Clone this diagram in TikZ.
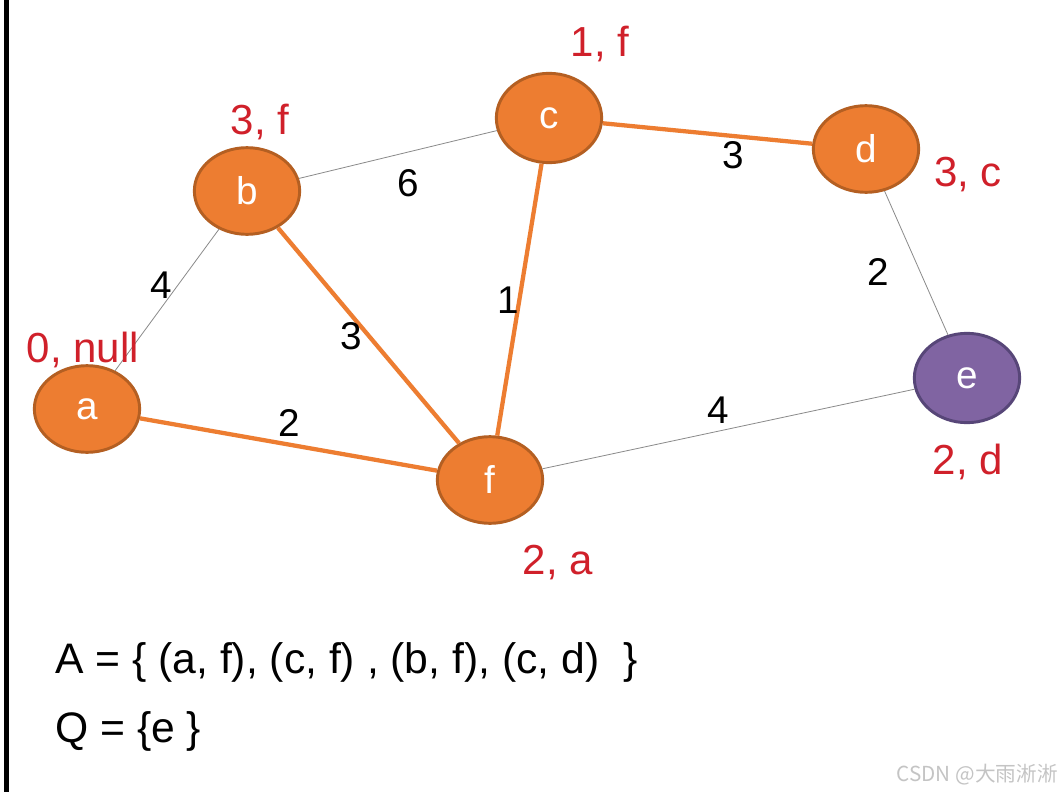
\documentclass[tikz,border=0pt]{standalone}
\usepackage{fontspec}
\setmainfont{Liberation Sans}
\newfontfamily\cjkfont{Noto Sans CJK SC}
\usetikzlibrary{shapes.geometric}
\definecolor{orfill}{HTML}{ED7D31}
\definecolor{ordraw}{HTML}{B45F22}
\definecolor{pufill}{HTML}{8064A2}
\definecolor{pudraw}{HTML}{574678}
\definecolor{redlab}{HTML}{D0202A}
\definecolor{edgegray}{HTML}{8A8A8A}
\definecolor{wmgray}{HTML}{C4C4C4}
\tikzset{
  vtx/.style={ellipse, draw=ordraw, fill=orfill, line width=2.2pt, inner sep=0pt,
    minimum width=79pt, minimum height=65pt, text=white, font=\fontsize{29}{31}\selectfont},
  vtxe/.style={vtx, draw=pudraw, fill=pufill},
  lab/.style={text=redlab, font=\fontsize{31.5}{33}\selectfont, inner sep=0pt},
  wt/.style={text=black, font=\fontsize{29}{31}\selectfont, inner sep=0pt},
  tree/.style={draw=orfill, line width=3.2pt},
  plain/.style={draw=edgegray, line width=0.6pt},
  setline/.style={text=black, font=\fontsize{32}{34}\selectfont, inner sep=0pt, anchor=west}
}
\begin{document}
\begin{tikzpicture}[x=0.75pt,y=-0.75pt]
\useasboundingbox (0,0) rectangle (1064,792);
\fill[white] (0,0) rectangle (1064,792);
\fill[black] (3.5,0) rectangle (8.5,792);
% vertices
\node[vtx] (a) at (87,409) {a};
\node[vtx] (b) at (247,191) {b};
\node[vtx, minimum height=67pt] (c) at (549,118) {c};
\node[vtx] (d) at (866,149) {d};
\node[vtxe, minimum height=67pt] (e) at (967,378) {e};
\node[vtx] (f) at (490,480) {f};
% edges
\draw[plain] (a) -- (b);
\draw[plain] (b) -- (c);
\draw[plain] (d) -- (e);
\draw[plain] (f) -- (e);
\draw[tree] (a) -- (f);
\draw[tree] (b) -- (f);
\draw[tree] (c) -- (f);
\draw[tree] (c) -- (d);
% weights
\node[wt] (w1) at (408,183) {6};
\node[wt] (w2) at (733,155) {3};
\node[wt] (w3) at (161,285) {4};
\node[wt] (w4) at (351,336) {3};
\node[wt] (w5) at (508,300) {1};
\node[wt] (w6) at (878,272) {2};
\node[wt] (w7) at (289,423) {2};
\node[wt] (w8) at (718,410) {4};
% distance labels
\node[lab] (lc) at (600,44) {1, f};
\node[lab] (lb) at (260,122) {3, f};
\node[lab] (ld) at (968,175) {3, c};
\node[lab] (la) at (83,350) {0, null};
\node[lab] (le) at (968,462) {2, d};
\node[lab] (lf) at (558,563) {2, a};
% sets
\node[setline] (setA) at (55,662) {A = \{ (a, f), (c, f) , (b, f), (c, d)\ \ \}};
\node[setline] (setQ) at (55,731) {Q = \{e \}};
% watermark
\node[text=wmgray, font=\cjkfont\fontsize{15.5}{17}\selectfont, anchor=east, inner sep=0pt] (wm) at (1058,775) {CSDN @大雨淅淅};
\end{tikzpicture}
\end{document}
